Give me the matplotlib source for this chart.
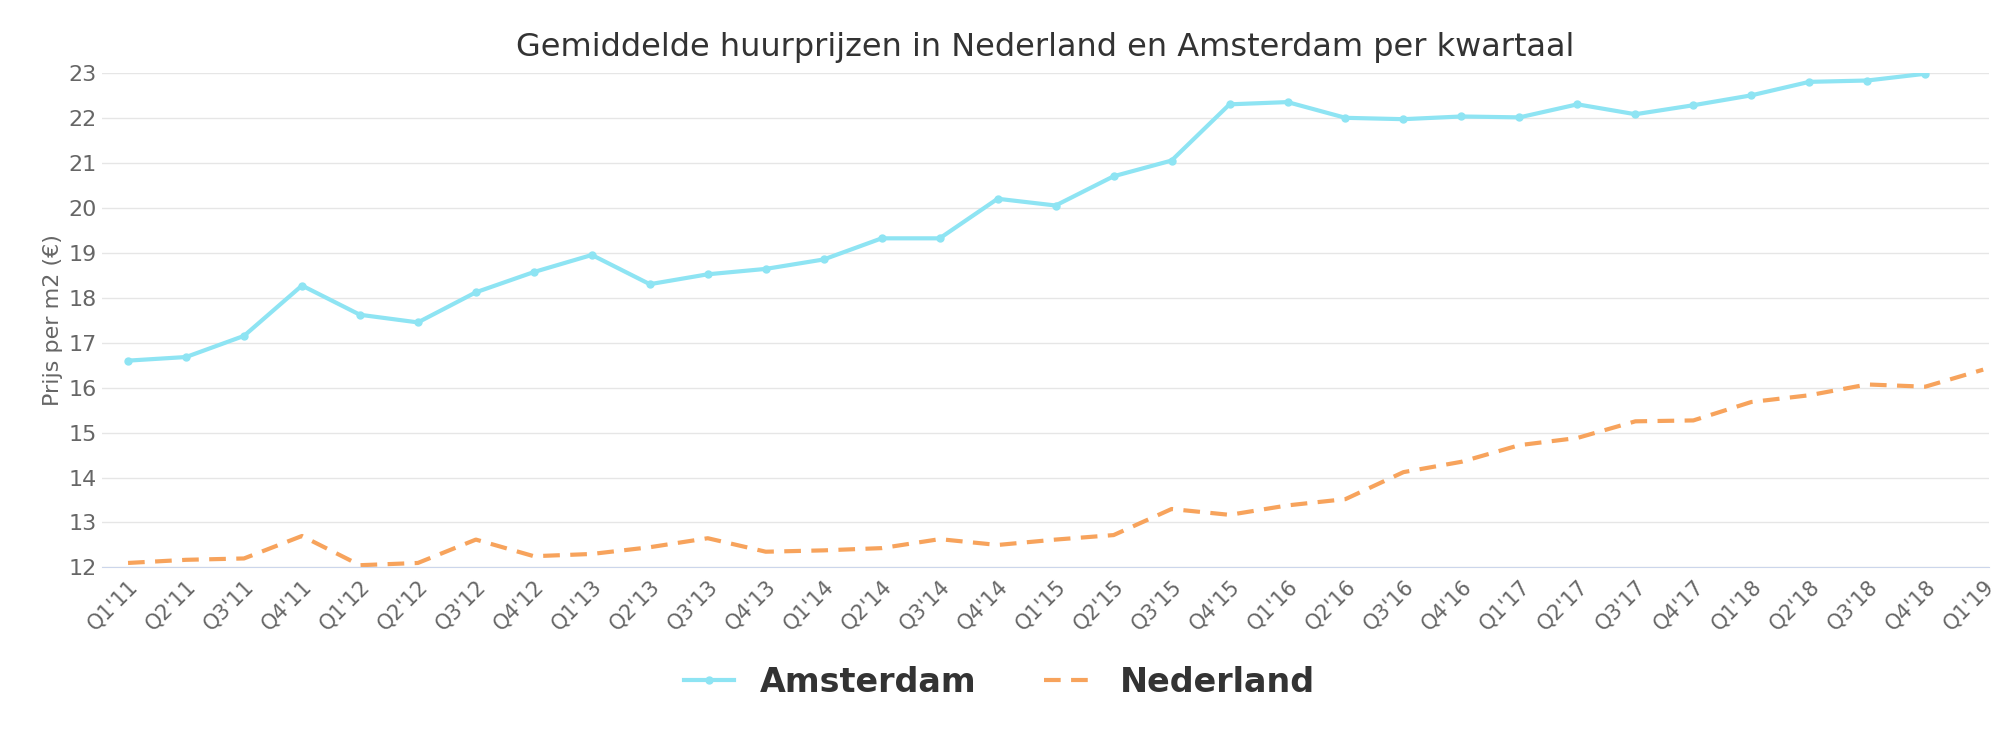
import numpy as np
import matplotlib.pyplot as plt

quarters = [f"Q{q}'{y}" for y in range(11, 20) for q in range(1, 5)][:33]
amsterdam = [16.6, 16.68, 17.15, 18.27, 17.62, 17.45, 18.12, 18.57, 18.95, 18.3, 18.52, 18.64, 18.85, 19.32, 19.32,
             20.2, 20.05, 20.7, 21.05, 22.3, 22.35, 22.0, 21.97, 22.03, 22.01, 22.3, 22.08, 22.28, 22.5, 22.8,
             22.83, 22.98, np.nan]
nederland = [12.1, 12.17, 12.2, 12.7, 12.05, 12.1, 12.62, 12.25, 12.3, 12.45, 12.65, 12.35, 12.38, 12.43, 12.63,
             12.5, 12.62, 12.72, 13.3, 13.17, 13.38, 13.52, 14.12, 14.35, 14.72, 14.88, 15.25, 15.27, 15.68, 15.83,
             16.07, 16.02, 16.4]

x = np.arange(len(quarters))
fig = plt.figure(figsize=(19.99, 7.36), dpi=100)
ax = fig.add_axes([0.051, 0.229, 0.944, 0.672])

ax.plot(x, amsterdam, color='#8ee4f3', lw=3, marker='o', ms=5, label='Amsterdam')
ax.plot(x, nederland, color='#f7a35c', lw=3, linestyle=(0, (4, 2.5)), label='Nederland')

ax.set_xlim(-0.45, 32.1)
ax.set_ylim(12, 23)
ax.set_yticks(range(12, 24))
ax.set_xticks(x)
ax.set_xticklabels(quarters, rotation=45, ha='right', rotation_mode='anchor', fontsize=15, color='#666666')
ax.tick_params(axis='y', labelsize=16, colors='#666666', length=0)
ax.tick_params(axis='x', length=0, pad=6)
ax.grid(axis='y', color='#e6e6e6', lw=1)
ax.set_axisbelow(True)
for s in ['top', 'right', 'left']:
    ax.spines[s].set_visible(False)
ax.spines['bottom'].set_color('#ccd6eb')
ax.set_ylabel('Prijs per m2 (€)', fontsize=16, color='#666666')
ax.set_title('Gemiddelde huurprijzen in Nederland en Amsterdam per kwartaal', fontsize=23, color='#333333', pad=12)

fig.legend(loc='lower center', bbox_to_anchor=(0.5, 0.01), ncol=2, frameon=False,
           prop={'size': 24, 'weight': 'bold'}, handlelength=1.5, columnspacing=2, labelcolor='#333333')

fig.savefig('out.png', dpi=100)
